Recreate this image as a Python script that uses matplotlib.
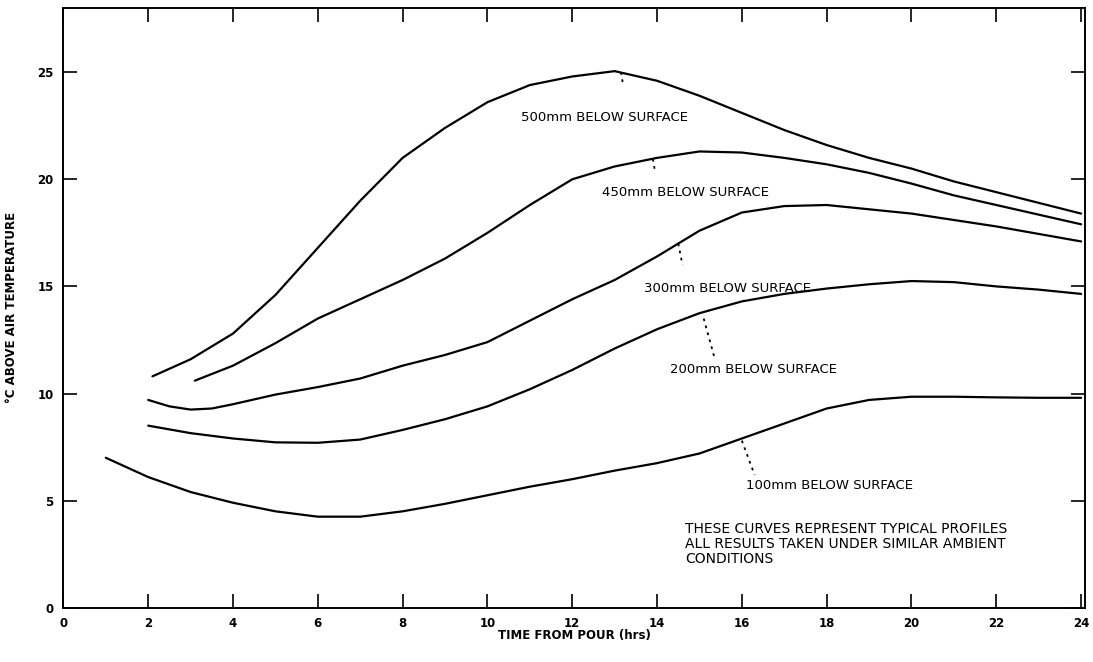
import matplotlib
matplotlib.use("Agg")
import matplotlib.pyplot as plt

# values (hours, degC above air temperature)
t_100 = [1, 2, 3, 4, 5, 6, 7, 8, 9, 10, 11, 12, 13, 14, 15, 16, 17, 18, 19, 20, 21, 22, 23, 24]
v_100 = [7.0, 6.1, 5.4, 4.9, 4.5, 4.25, 4.25, 4.5, 4.85, 5.25, 5.65, 6.0, 6.4, 6.75, 7.2, 7.9, 8.6, 9.3, 9.7, 9.85, 9.85, 9.82, 9.8, 9.8]

t_200 = [2, 3, 4, 5, 6, 7, 8, 9, 10, 11, 12, 13, 14, 15, 16, 17, 18, 19, 20, 21, 22, 23, 24]
v_200 = [8.5, 8.15, 7.9, 7.72, 7.7, 7.85, 8.3, 8.8, 9.4, 10.2, 11.1, 12.1, 13.0, 13.75, 14.3, 14.65, 14.9, 15.1, 15.25, 15.2, 15.0, 14.85, 14.65]

t_300 = [2, 2.5, 3, 3.5, 4, 5, 6, 7, 8, 9, 10, 11, 12, 13, 14, 15, 16, 17, 18, 19, 20, 21, 22, 23, 24]
v_300 = [9.7, 9.4, 9.25, 9.3, 9.5, 9.95, 10.3, 10.7, 11.3, 11.8, 12.4, 13.4, 14.4, 15.3, 16.4, 17.6, 18.45, 18.75, 18.8, 18.6, 18.4, 18.1, 17.8, 17.45, 17.1]

t_450 = [3.1, 4, 5, 6, 7, 8, 9, 10, 11, 12, 13, 14, 15, 16, 17, 18, 19, 20, 21, 22, 23, 24]
v_450 = [10.6, 11.3, 12.35, 13.5, 14.4, 15.3, 16.3, 17.5, 18.8, 20.0, 20.6, 21.0, 21.3, 21.25, 21.0, 20.7, 20.3, 19.8, 19.25, 18.8, 18.35, 17.9]

t_500 = [2.1, 3, 4, 5, 6, 7, 8, 9, 10, 11, 12, 13, 14, 15, 16, 17, 18, 19, 20, 21, 22, 23, 24]
v_500 = [10.8, 11.6, 12.8, 14.6, 16.8, 19.0, 21.0, 22.4, 23.6, 24.4, 24.8, 25.05, 24.6, 23.9, 23.1, 22.3, 21.6, 21.0, 20.5, 19.9, 19.4, 18.9, 18.4]

x_ticks = [0, 2, 4, 6, 8, 10, 12, 14, 16, 18, 20, 22, 24]
y_ticks = [0, 5, 10, 15, 20, 25]

curves = [
    (t_100, v_100, "100mm BELOW SURFACE", (16.1, 5.7), (16.0, 7.8), (16.3, 6.2)),
    (t_200, v_200, "200mm BELOW SURFACE", (14.3, 11.1), (15.1, 13.5), (15.35, 11.7)),
    (t_300, v_300, "300mm BELOW SURFACE", (13.7, 14.9), (14.5, 17.0), (14.6, 16.0)),
    (t_450, v_450, "450mm BELOW SURFACE", (12.7, 19.4), (13.9, 20.95), (13.95, 20.4)),
    (t_500, v_500, "500mm BELOW SURFACE", (10.8, 22.9), (13.15, 25.0), (13.2, 24.4)),
]

fig = plt.figure(figsize=(10.93, 6.62), dpi=100)
ax = fig.add_axes([0.058, 0.082, 0.935, 0.906])

for t, v, name, lab, tip, tail in curves:
    ax.plot(t, v, color="black", lw=1.6, solid_joinstyle="round", solid_capstyle="round")
    # short pointer from the curve towards its label
    ax.plot([tip[0], tail[0]], [tip[1], tail[1]], color="black", lw=1.3, ls=(0, (1.5, 2.5)))
    ax.text(lab[0], lab[1], name, fontsize=9.5, va="center", ha="left")

ax.text(14.66, 4.0, "THESE CURVES REPRESENT TYPICAL PROFILES\n"
        "ALL RESULTS TAKEN UNDER SIMILAR AMBIENT\nCONDITIONS",
        fontsize=10, va="top", ha="left", linespacing=1.1)

ax.set_xlim(0, 24.1)
ax.set_ylim(0, 28)
ax.set_xticks(x_ticks)
ax.set_yticks(y_ticks)
ax.set_xticklabels([str(x) for x in x_ticks], fontsize=8.5, fontweight="bold")
ax.set_yticklabels([str(y) for y in y_ticks], fontsize=8.5, fontweight="bold")
ax.tick_params(direction="in", length=10, width=1.2, top=True, right=True, pad=7)
for s in ax.spines.values():
    s.set_linewidth(1.4)

ax.set_xlabel("TIME FROM POUR (hrs)", fontsize=8.5, fontweight="bold", labelpad=-1)
ax.set_ylabel("°C ABOVE AIR TEMPERATURE", fontsize=8.5, fontweight="bold", labelpad=14)

fig.savefig("out.png", dpi=100)
